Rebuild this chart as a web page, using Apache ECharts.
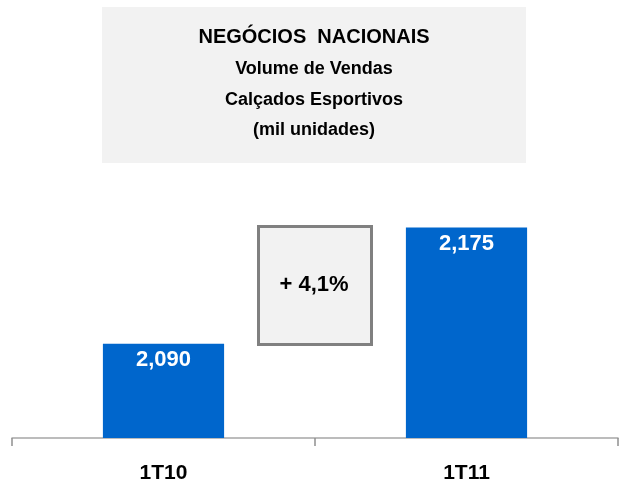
<!DOCTYPE html>
<html>
<head>
<meta charset="utf-8">
<script src="https://cdn.jsdelivr.net/npm/echarts@6/dist/echarts.min.js"></script>
<style>
  html, body { margin: 0; padding: 0; background: #fff; }
  #main { width: 622px; height: 486px; }
</style>
</head>
<body>
<div id="main"></div>
<script>
var categories = ['1T10', '1T11'];
var volumes = [2090, 2175];
var growthText = '+ 4,1%';
var titleLines = ['NEGÓCIOS  NACIONAIS', 'Volume de Vendas', 'Calçados Esportivos', '(mil unidades)'];

var font = '"Liberation Sans", Arial, sans-serif';
var myChart = echarts.init(document.getElementById('main'));

var option = {
    animation: false,
    grid: { left: 12, right: 4, top: 192, bottom: 48 },
    graphic: [
        // caixa do título
        {
            type: 'rect', left: 102, top: 7, z: 0,
            shape: { width: 424, height: 156 },
            style: { fill: '#f2f2f2' }
        },
        {
            type: 'text', x: 314, y: 37, z: 1,
            style: { text: titleLines[0], font: 'bold 20px ' + font, fill: '#000', align: 'center', verticalAlign: 'middle' }
        },
        {
            type: 'text', x: 314, y: 69, z: 1,
            style: { text: titleLines[1], font: 'bold 18px ' + font, fill: '#000', align: 'center', verticalAlign: 'middle' }
        },
        {
            type: 'text', x: 314, y: 100, z: 1,
            style: { text: titleLines[2], font: 'bold 18px ' + font, fill: '#000', align: 'center', verticalAlign: 'middle' }
        },
        {
            type: 'text', x: 314, y: 130, z: 1,
            style: { text: titleLines[3], font: 'bold 18px ' + font, fill: '#000', align: 'center', verticalAlign: 'middle' }
        },
        // caixa de crescimento
        {
            type: 'rect', left: 257, top: 225, z: 5,
            shape: { width: 113, height: 118 },
            style: { fill: '#f2f2f2', stroke: '#808080', lineWidth: 3 }
        },
        {
            type: 'text', x: 314, y: 285, z: 6,
            style: { text: growthText, font: 'bold 22px ' + font, fill: '#000', align: 'center', verticalAlign: 'middle' }
        }
    ],
    xAxis: {
        type: 'category',
        data: categories,
        boundaryGap: true,
        axisLine: { lineStyle: { color: '#a6a6a6', width: 1.5 } },
        axisTick: { show: true, length: 8, lineStyle: { color: '#909090', width: 1.5 } },
        axisLabel: {
            margin: 25,
            color: '#000',
            fontFamily: font,
            fontWeight: 'bold',
            fontSize: 21
        }
    },
    yAxis: {
        type: 'value',
        min: 2021,
        max: 2201,
        show: false,
        splitLine: { show: false }
    },
    series: [
        {
            type: 'bar',
            data: volumes,
            barWidth: '40%',
            itemStyle: { color: '#0066cc' },
            label: {
                show: true,
                position: 'insideTop',
                distance: 5,
                color: '#fff',
                fontFamily: font,
                fontWeight: 'bold',
                fontSize: 22,
                formatter: function (p) {
                    return echarts.format.addCommas(p.value);
                }
            }
        }
    ]
};

myChart.setOption(option);
</script>
</body>
</html>
